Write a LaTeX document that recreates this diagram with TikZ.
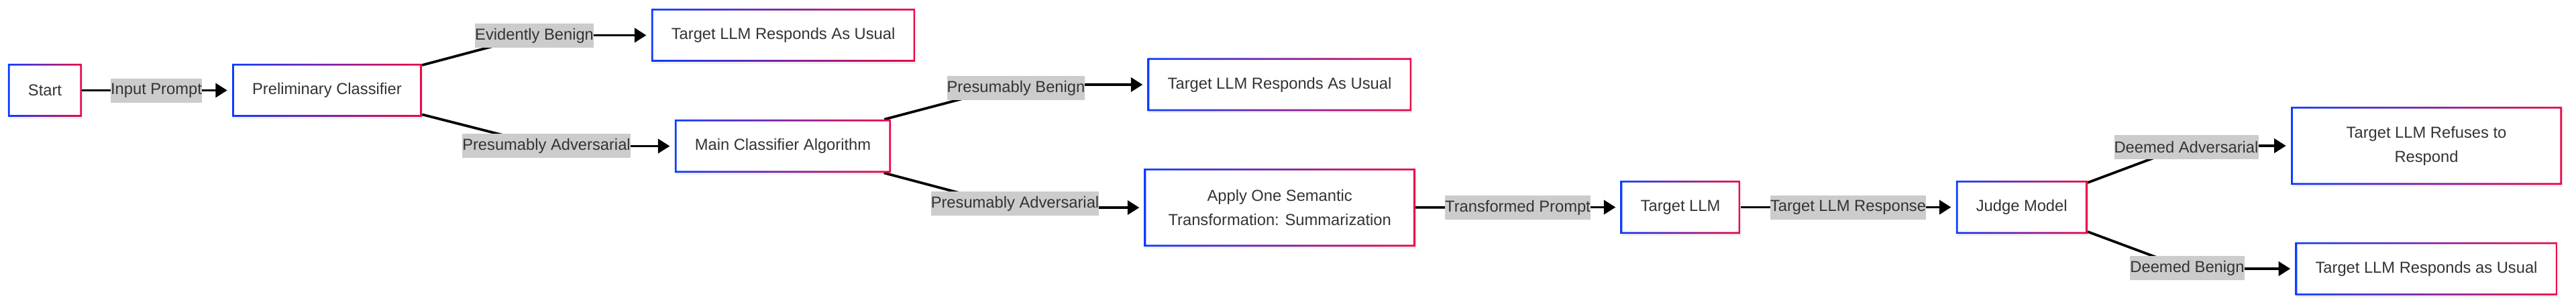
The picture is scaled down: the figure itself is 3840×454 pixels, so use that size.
\documentclass[tikz,border=0pt]{standalone}
\usepackage{fontspec}
\setmainfont{Liberation Sans}
\usepackage{tikz}
\usetikzlibrary{shapes,arrows.meta,shadows,backgrounds}

\definecolor{flowblue}{RGB}{12,60,255}
\definecolor{flowred}{RGB}{236,8,72}
\definecolor{flowtext}{RGB}{51,51,51}

\tikzset{
  flowbox/.style={rectangle, fill=white, text=flowtext, inner xsep=6mm, inner ysep=0pt,
    minimum height=15.8mm, align=center,
    drop shadow={opacity=0.12, shadow xshift=0.4mm, shadow yshift=-0.6mm},
    path picture={\shade[left color=flowblue, right color=flowred, even odd rule]
      (path picture bounding box.south west) rectangle (path picture bounding box.north east)
      ([shift={(0.55mm,0.55mm)}]path picture bounding box.south west) rectangle
      ([shift={(-0.55mm,-0.55mm)}]path picture bounding box.north east);}},
  tallbox/.style={flowbox, minimum height=23.2mm, minimum width=80.8mm},
  edgelabel/.style={fill=black!20, text=flowtext, inner xsep=0pt, inner ysep=0pt, minimum height=7.2mm},
  flowline/.style={line width=0.75mm},
  flowarrow/.style={line width=0.75mm, -{Triangle[length=3.5mm,width=4.2mm]}, shorten >=1.4mm}
}

\begin{document}
\begin{tikzpicture}[x=0.2mm, y=-0.2mm, font=\fontsize{13.5}{20.5}\selectfont]
			\useasboundingbox (0,0) rectangle (3840,454);
			\node[flowbox] (start) at (67,134.5) {Start};
			\node[flowbox] (prelim) at (487.5,134.5) {Preliminary Classifier};
			\node[flowbox] (respA) at (1167.6,52.5) {Target LLM Responds As Usual};
			\node[flowbox] (mainclf) at (1167,217.5) {Main Classifier Algorithm};
			\node[flowbox] (respB) at (1907.5,126) {Target LLM Responds As Usual};
			\node[tallbox] (apply) at (1907.7,309) {Apply One Semantic\\Transformation: Summarization};
			\node[flowbox] (target) at (2505,308.5) {Target LLM};
			\node[flowbox] (judge) at (3013.7,308.5) {Judge Model};
			\node[tallbox] (refuse) at (3617,217) {Target LLM Refuses to\\Respond};
			\node[flowbox] (respC) at (3617,400) {Target LLM Responds as Usual};

			\node[edgelabel] (lInput) at (233,135) {Input Prompt};
			\node[edgelabel] (lEvident) at (796.6,53.5) {Evidently Benign};
			\node[edgelabel] (lPresAdvA) at (814.5,217) {Presumably Adversarial};
			\node[edgelabel] (lPresBen) at (1514.5,131) {Presumably Benign};
			\node[edgelabel] (lPresAdvB) at (1513,303) {Presumably Adversarial};
			\node[edgelabel] (lTrans) at (2262.5,309) {Transformed Prompt};
			\node[edgelabel] (lResp) at (2755,309) {Target LLM Response};
			\node[edgelabel] (lDeemAdv) at (3259,219) {Deemed Adversarial};
			\node[edgelabel] (lDeemBen) at (3260.5,399) {Deemed Benign};

			\begin{scope}[on background layer]
			\draw[flowline] (start) -- (lInput |- prelim);
			\draw[flowarrow] (lInput |- prelim) -- (prelim);
			\draw[flowline] (prelim) -- (lEvident |- respA);
			\draw[flowarrow] (lEvident |- respA) -- (respA);
			\draw[flowline] (prelim) -- (lPresAdvA |- mainclf);
			\draw[flowarrow] (lPresAdvA |- mainclf) -- (mainclf);
			\draw[flowline] (mainclf) -- (lPresBen |- respB);
			\draw[flowarrow] (lPresBen |- respB) -- (respB);
			\draw[flowline] (mainclf) -- (lPresAdvB |- apply);
			\draw[flowarrow] (lPresAdvB |- apply) -- (apply);
			\draw[flowline] (apply) -- (lTrans |- target);
			\draw[flowarrow] (lTrans |- target) -- (target);
			\draw[flowline] (target) -- (lResp |- judge);
			\draw[flowarrow] (lResp |- judge) -- (judge);
			\draw[flowline] (judge) -- (lDeemAdv |- refuse);
			\draw[flowarrow] (lDeemAdv |- refuse) -- (refuse);
			\draw[flowline] (judge) -- (lDeemBen |- respC);
			\draw[flowarrow] (lDeemBen |- respC) -- (respC);
			\end{scope}
		\end{tikzpicture}
\end{document}
